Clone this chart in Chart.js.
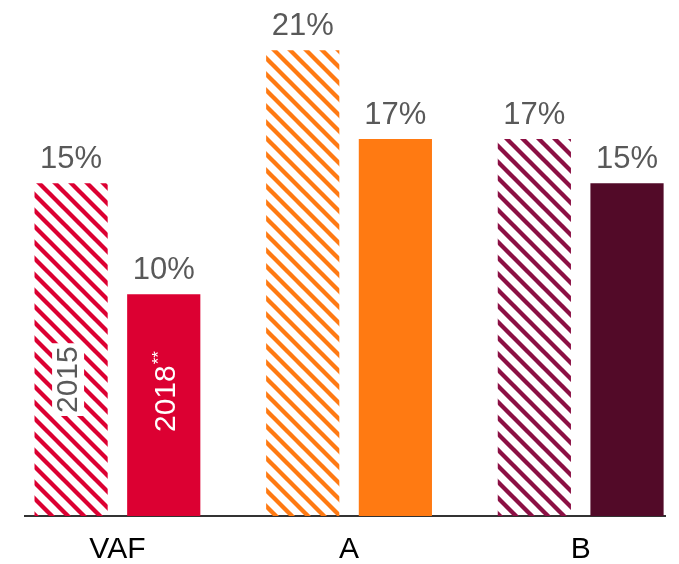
<!DOCTYPE html>
<html>
<head>
<meta charset="utf-8">
<script src="https://cdn.jsdelivr.net/npm/chart.js@4/dist/chart.umd.min.js"></script>
<style>
  html, body { margin: 0; padding: 0; background: #fff; }
</style>
</head>
<body>
<canvas id="myChart" width="679" height="564"></canvas>
<script>
const categories = ['VAF', 'A', 'B'];
const seriesNames = ['2015', '2018'];
const seriesNote = '**';
const values2015 = [15, 21, 17];
const values2018 = [10, 17, 15];

// solid colours for 2018, hatched tones for 2015
const solidColors = ['#DC0032', '#FF7A12', '#520A28'];
const hatchColors = ['#DC0032', '#FF7A12', '#8C1044'];

const FONT = '"Liberation Sans", Arial, sans-serif';

function hatch(color) {
    const size = 16;
    const c = document.createElement('canvas');
    c.width = size;
    c.height = size;
    const g = c.getContext('2d');
    g.strokeStyle = color;
    g.lineWidth = 4.3;
    g.lineCap = 'square';
    for (let o = -size; o <= size; o += size) {
        g.beginPath();
        g.moveTo(o, 0);
        g.lineTo(o + size, size);
        g.stroke();
    }
    return g.createPattern(c, 'repeat');
}

// "15%" etc. above every bar
const valueLabels = {
    id: 'valueLabels',
    afterDatasetsDraw(chart) {
        const ctx = chart.ctx;
        ctx.save();
        ctx.font = '31px ' + FONT;
        ctx.fillStyle = '#595959';
        ctx.textAlign = 'center';
        ctx.textBaseline = 'alphabetic';
        chart.data.datasets.forEach((ds, i) => {
            chart.getDatasetMeta(i).data.forEach((bar, j) => {
                ctx.fillText(ds.data[j].y + '%', bar.x, bar.y - 15);
            });
        });
        ctx.restore();
    }
};

// year names written upright inside the first pair of bars
const seriesLabels = {
    id: 'seriesLabels',
    afterDatasetsDraw(chart) {
        const ctx = chart.ctx;
        const bottom = chart.chartArea.bottom;
        const b0 = chart.getDatasetMeta(0).data[0];
        const b1 = chart.getDatasetMeta(1).data[0];

        ctx.save();
        ctx.font = '30px ' + FONT;
        ctx.textAlign = 'left';
        ctx.textBaseline = 'middle';

        // 2015 on a white box over the stripes
        ctx.save();
        ctx.translate(b0.x - 3, bottom - 103);
        ctx.rotate(-Math.PI / 2);
        const w0 = ctx.measureText(seriesNames[0]).width;
        ctx.fillStyle = '#fff';
        ctx.fillRect(-3, -16, w0 + 6, 32);
        ctx.fillStyle = '#595959';
        ctx.fillText(seriesNames[0], 0, 1);
        ctx.restore();

        // 2018** in white on the solid bar
        ctx.save();
        ctx.translate(b1.x + 2, bottom - 84);
        ctx.rotate(-Math.PI / 2);
        const w1 = ctx.measureText(seriesNames[1]).width;
        ctx.fillStyle = '#fff';
        ctx.fillText(seriesNames[1], 0, 1);
        ctx.font = '17px ' + FONT;
        ctx.fillText(seriesNote, w1 + 1, -6);
        ctx.restore();

        ctx.restore();
    }
};

const ctx = document.getElementById('myChart').getContext('2d');
const chart = new Chart(ctx, {
    type: 'bar',
    data: {
        datasets: [{
            label: seriesNames[0],
            data: values2015.map((v, i) => ({ x: i, y: v })),
            backgroundColor: hatchColors.map(hatch),
            categoryPercentage: 0.8,
            barPercentage: 0.79
        },
        {
            label: seriesNames[1],
            data: values2018.map((v, i) => ({ x: i, y: v })),
            backgroundColor: solidColors,
            categoryPercentage: 0.8,
            barPercentage: 0.79
        }]
    },
    options: {
        responsive: false,
        animation: false,
        layout: { padding: { top: 28, left: 25, right: 14, bottom: 0 } },
        plugins: {
            legend: { display: false },
            tooltip: { enabled: false }
        },
        scales: {
            x: {
                type: 'linear',
                min: -0.399,
                max: 2.364,
                offset: false,
                z: 1,
                grid: { display: false, drawTicks: false, offset: false },
                border: { display: true, color: '#333', width: 2 },
                afterFit(scale) { scale.height = 48; },
                ticks: {
                    stepSize: 1,
                    includeBounds: false,
                    padding: 16,
                    color: '#000',
                    font: { family: FONT, size: 30 },
                    callback: v => categories[v] ?? ''
                }
            },
            y: {
                display: false,
                min: 0,
                max: 22
            }
        }
    },
    plugins: [valueLabels, seriesLabels]
});
</script>
</body>
</html>
